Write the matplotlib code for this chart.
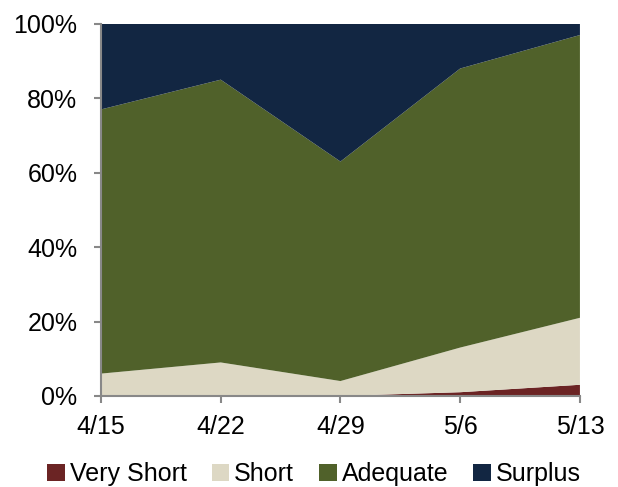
import matplotlib.pyplot as plt
from matplotlib.ticker import PercentFormatter
from matplotlib.patches import Patch

plt.rcParams['font.family'] = ['Liberation Sans', 'DejaVu Sans']

dates = ["4/15", "4/22", "4/29", "5/6", "5/13"]
very_short = [0, 0, 0, 1, 3]
short = [6, 9, 4, 12, 18]
adequate = [71, 76, 59, 75, 76]
surplus = [23, 15, 37, 12, 3]

names = ["Very Short", "Short", "Adequate", "Surplus"]
colors = ["#6B2424", "#DDD8C4", "#50612A", "#122642"]


def do_plot():
    f = plt.figure(figsize=(6.18, 4.87), dpi=100)
    ax = f.add_axes([0.1634, 0.187, 0.775, 0.764])
    x = list(range(len(dates)))
    ax.stackplot(x, very_short, short, adequate, surplus, colors=colors, linewidth=0)

    ax.set_xlim(0, len(dates) - 1)
    ax.set_ylim(0, 100)
    ax.set_xticks(x)
    ax.set_xticklabels(dates)
    ax.set_yticks([0, 20, 40, 60, 80, 100])
    ax.yaxis.set_major_formatter(PercentFormatter(decimals=0))
    ax.tick_params(axis='both', labelsize=18, color='#888888', direction='out', length=5, width=1.5)
    ax.tick_params(axis='x', pad=9)
    ax.tick_params(axis='y', pad=12)
    for side in ['top', 'right']:
        ax.spines[side].set_visible(False)
    for side in ['left', 'bottom']:
        ax.spines[side].set_color('#888888')
        ax.spines[side].set_linewidth(1.5)
        ax.spines[side].set_zorder(5)

    handles = [Patch(facecolor=c, label=n) for n, c in zip(names, colors)]
    f.legend(handles=handles, loc='lower center', bbox_to_anchor=(0.508, -0.045), ncol=4, frameon=False,
             fontsize=18, handlelength=0.7, handleheight=0.7, handletextpad=0.2, columnspacing=1.0)
    plt.savefig('out.png', dpi=100)


if __name__ == '__main__':
    do_plot()
